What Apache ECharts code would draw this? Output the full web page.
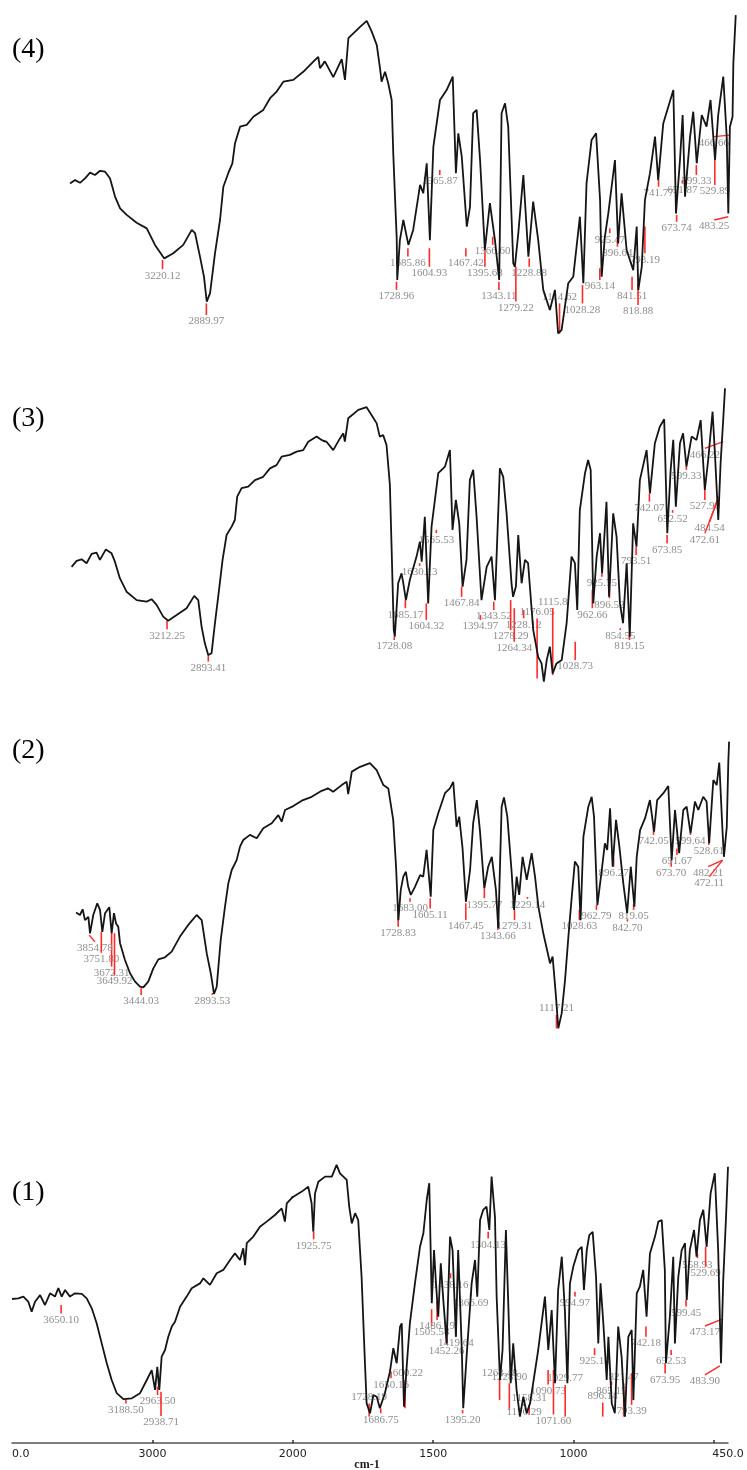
<!DOCTYPE html>
<html><head><meta charset="utf-8">
<script src="https://cdn.jsdelivr.net/npm/echarts@6/dist/echarts.min.js"></script>
<style>html,body{margin:0;padding:0;background:#fff}#c{width:747px;height:1470px}</style>
</head><body><div id="c"></div>
<script>
// ---------- Spectrum (4) ----------
const s4Wave = [3917,3879,3842,3804,3766,3729,3691,3653,3616,3578,3540,3490,3415,3339,3277,3207,3139,3064,3000,2975,2938,2908,2887,2862,2825,2787,2762,2725,2694,2674,2636,2586,2536,2461,2410,2360,2310,2235,2160,2084,2047,2034,1998,1967,1935,1923,1910,1866,1841,1822,1803,1791,1785,1772,1760,1747,1741,1734,1728,1726,1716,1703,1697,1684,1666,1640,1628,1615,1603,1590,1565,1540,1517,1505,1496,1483,1464,1452,1440,1427,1414,1396,1377,1358,1342,1333,1320,1308,1289,1283,1270,1251,1232,1214,1195,1176,1151,1132,1120,1107,1082,1063,1038,1025,1013,994,977,962,956,944,931,906,894,881,862,837,824,818,805,793,774,755,743,724,686,676,661,651,642,623,611,598,579,561,546,529,517,498,485,479,473,463,460,451];
const s4T = [52.2,53.3,52.4,53.9,55.8,55,56.4,56.1,53.9,47.8,43.9,41.7,39.1,37.2,31.7,27.2,28.9,31.7,36.7,35.6,27.8,21.1,12.8,15.6,28.9,40,51.1,55.6,58.9,65.6,71.1,71.7,74.4,76.7,80.6,82.8,86.1,86.7,89.4,92.8,94.4,90.6,92.8,87.6,93.6,86.7,100.6,104.4,106.4,102.8,98.3,90.6,86.1,89.4,85.6,80,62.2,46.7,33.9,20,33.3,40,40.6,31.7,36.7,51.7,48.9,58.9,33.3,64.4,80,83.3,87.8,55.6,68.9,61.1,37.8,44.4,75.6,76.7,60,30,45.6,33.3,20,75.6,78.9,71.1,25.6,24.4,35.6,55,27.8,46.1,33.3,16.7,10,16.7,2.2,3.3,18.9,21.1,41.1,18.9,52.2,66.7,68.9,46.7,21.1,34.4,42.2,60,32.2,48.9,30,23.3,37.8,16.7,24.4,46.7,55.6,67.8,53.3,72.2,83.3,42.2,60,75,47.8,67.8,76.1,58.9,75,71.1,80,60,75,87.8,67.8,42.2,71.1,74.4,92.2,108.3];
const p4Peaks = [['3220.12',26.7,23.6],['2889.97',12.2,8.3],['1728.96',19.4,16.7],['1685.86',30.6,27.8],['1604.93',30.6,24.4],['1565.87',56.7,55],['1467.42',30.6,27.8],['1395.68',30,24.4],['1366.60',34.4,31.7],['1343.11',19.4,16.7],['1279.22',24.4,12.8],['1228.88',27.2,24.4],['1114.62',12.2,2.2,'up'],['1028.28',18.3,12.2],['963.14',23.9,20],['925.47',37.2,35.6],['896.64',34.4,31.1],['841.51',21.1,16.7],['818.88',18.9,11.7],['793.19',37.8,28.9],['741.77',53.3,51.1],['673.74',41.7,39.4],['651.87',53.3,52.2],['599.33',58.3,55],['529.89',60,51.7]];
const p4Leaders = [['466.66',473,68.3,533,67.8],['483.25',479,41.1,532,40]];

// ---------- Spectrum (3) ----------
const s3Wave = [3950,3911,3872,3834,3795,3757,3731,3685,3641,3615,3577,3525,3447,3370,3332,3293,3242,3203,3138,3061,3002,2971,2945,2920,2894,2868,2842,2817,2783,2752,2713,2688,2670,2636,2585,2533,2469,2417,2366,2327,2263,2211,2160,2121,2056,2018,1990,1964,1938,1925,1919,1906,1867,1835,1816,1796,1784,1771,1758,1745,1738,1730,1726,1713,1700,1694,1683,1668,1642,1629,1622,1610,1597,1584,1558,1532,1513,1503,1490,1477,1464,1449,1436,1423,1410,1391,1371,1352,1339,1320,1307,1294,1275,1269,1258,1249,1236,1223,1211,1191,1172,1159,1150,1139,1127,1116,1101,1081,1062,1043,1030,1021,1011,991,979,969,959,946,933,925,908,898,882,869,856,844,830,818,805,792,779,753,740,721,702,685,673,660,650,640,624,612,599,579,560,544,528,515,498,489,476,467,457,450];
const s3T = [44.4,46.4,46.9,45.6,48.7,49.1,46.7,50.2,48.9,46.1,40.6,36.1,33.3,32.8,33.6,31.7,27.8,26.4,28.3,30.6,34.7,33.3,24.4,18.9,15,15.6,25.6,34.4,46.7,55,57.8,60,67.8,70.6,71.1,73.3,74.4,77.2,78.3,81.1,81.7,82.8,83.3,86.1,87.8,86.7,86.1,83.3,87.2,88.9,86.1,93.9,96.7,97.6,95,92.2,87.8,88.3,85,71.7,49.4,23.3,21.1,38.9,42.2,39.4,33.3,40,47.8,52.8,46.1,61.1,32.2,57.8,75.6,77.8,83.3,56.7,66.7,58.9,37.8,46.7,73.3,76.7,61.1,33.3,44.4,47.8,33.3,77.2,74.4,62.2,38.9,34.4,37.8,55,38.9,46.7,45.6,23.3,14.4,12.2,6.1,13.3,17.8,8.9,12.2,13.3,25.6,47.8,45.6,30,63.3,75.6,80,76.7,32.2,47.8,55.6,42.2,66.1,34.4,62.2,54.4,32.2,25.6,45.6,21.1,58.9,51.1,73.3,83.3,68.9,85.6,91.1,93.6,55.6,76.7,86.7,64.4,85.6,88.9,77.8,87.8,86.7,93.3,70,80,96.1,82.2,60,78.9,93.3,103.9];
const p3Peaks = [['3212.25',26.4,23.6],['2893.41',15,12.8],['1728.08',21.1,20],['1685.17',33.3,30.6],['1630.13',45.6,44.7],['1604.32',32.2,26.7],['1565.53',56.7,55.6],['1467.84',37.8,34.4],['1394.97',28.3,26.7],['1343.52',32.8,30],['1278.29',33.3,23.3],['1264.34',30.6,19.4],['1228.12',30,27.2],['1176.05',27.2,7.2,'up'],['1115.8',30.6,8.3,'up'],['1028.73',19.4,13.3],['962.66',36.7,30.6],['925.75',42.2,41.1],['896.52',41.1,33.9],['854.55',23.9,23.3],['819.15',22.2,20],['793.51',51.1,48.3],['742.07',68.9,66.1],['673.85',55,52.2],['652.52',63.3,62.4],['599.33',77.8,76.7],['527.90',70,66.7]];
const p3Leaders = [['466.22',457,86.1,528,83.9],['484.54',476,67.8,509,59.4],['472.61',483,65.6,528,55.6]];

// ---------- Spectrum (2) ----------
const s2Wave = [3947,3917,3896,3878,3852,3839,3814,3783,3762,3744,3723,3690,3672,3654,3638,3621,3607,3569,3530,3491,3453,3427,3389,3350,3311,3260,3208,3144,3080,3015,2976,2937,2906,2881,2860,2829,2796,2770,2744,2706,2680,2655,2603,2551,2500,2435,2384,2358,2332,2268,2203,2126,2049,1999,1980,1947,1928,1922,1908,1876,1838,1812,1786,1767,1748,1737,1728,1719,1709,1699,1690,1680,1664,1644,1632,1619,1603,1593,1574,1548,1529,1516,1503,1493,1480,1467,1451,1439,1425,1413,1396,1381,1367,1351,1342,1329,1320,1307,1290,1281,1271,1261,1248,1232,1213,1200,1187,1168,1142,1132,1119,1110,1097,1084,1071,1058,1046,1033,1024,1013,994,981,972,959,942,930,921,910,900,887,874,859,844,830,816,807,794,775,756,740,728,704,685,672,659,643,627,614,599,582,569,550,537,527,511,498,488,475,470,459,453,450];
const s2T = [40.8,40,41.9,38.3,39.4,33.9,40,43.9,41.7,34.4,40.6,42.6,33.9,40.6,37.2,36.1,30.6,25,20.6,17.8,16.1,15.9,17.8,22.2,25.2,25.9,27.8,32.8,36.7,40,38.3,27.2,20.6,13.7,16.1,31.7,42.8,50.6,55,58.3,62.8,65,66.7,65.6,68.9,70.6,73.3,71.1,75,76.3,78.1,79.4,81.4,82.2,81.1,83.3,84.4,80.3,87.8,89.4,90.6,88.3,83.3,82.2,71.7,56.1,38.3,48.3,52.8,54.4,49.4,46.7,49.4,53.3,52.8,61.7,46.1,68.3,73.9,80.6,82.2,84.4,69.4,72.8,62.2,44.4,55,70.6,78.3,68.3,48.9,56.1,59.4,48.3,35.6,76.1,79.2,72.8,53.9,41.7,52.8,46.7,59.4,51.7,60.6,52.8,42.8,33.9,23.9,26.1,12.8,2.2,7.2,18.3,32.8,46.1,57.8,56.1,38.3,66.1,76.1,79.4,72.8,43.3,55,63.9,61.7,75.6,56.1,71.7,62.8,50.6,40.6,56.1,42.8,59.4,68.3,72.2,78.3,67.8,78.3,80.6,83,58.3,75,60.6,75,76.1,67.2,77.8,75,79.4,77.8,63.9,85,83.3,90.8,67.2,59.4,69.4,91.1,97.8];
const p2Peaks = [['3751.80',34.4,27.4],['3672.31',33.9,22.8],['3649.92',33.9,20],['3444.03',15.6,13.3],['2893.53',14,13.3],['1728.83',40,36.1],['1683.00',45.6,44.4],['1605.11',45.6,42.2],['1467.45',43.9,38.3],['1395.77',48.9,45.6],['1343.66',38.3,35],['1279.31',41.7,38.3],['1229.14',46,45.4],['1117.21',6.7,2.2,'up'],['1028.63',41.7,38.3],['962.79',43.3,41.7],['896.27',58.9,56.1],['842.70',38.6,37.8],['819.05',43.6,41.7],['742.05',69.7,66.7],['673.70',58.3,56.1],['651.67',62.2,60],['599.64',67.2,66.7],['528.61',69.4,63.3]];
const p2Leaders = [['3854.78',3845,33.3,3801,31.1],['482.21',475,58.3,531,56.1],['472.11',475,58.3,527,52.8]];

// ---------- Spectrum (1) ----------
const s1Wave = [4000,3955,3919,3884,3860,3836,3800,3765,3729,3694,3670,3646,3622,3587,3551,3503,3468,3432,3397,3361,3325,3290,3254,3207,3147,3088,3040,3005,2981,2965,2951,2934,2910,2887,2862,2839,2803,2756,2720,2661,2637,2590,2542,2495,2447,2412,2376,2353,2340,2328,2281,2234,2186,2127,2079,2056,2043,1998,1968,1945,1933,1927,1921,1909,1885,1861,1844,1832,1808,1799,1790,1778,1767,1755,1743,1737,1725,1713,1701,1690,1672,1654,1642,1630,1618,1612,1604,1594,1583,1565,1547,1535,1523,1514,1505,1497,1490,1482,1473,1464,1452,1440,1431,1419,1411,1398,1393,1381,1363,1351,1343,1333,1322,1310,1300,1292,1280,1274,1262,1253,1241,1233,1224,1215,1203,1191,1179,1167,1155,1144,1126,1114,1102,1090,1078,1066,1055,1042,1031,1022,1013,1001,983,971,963,953,944,932,920,912,904,894,882,876,864,853,841,829,817,805,793,787,775,764,752,740,728,710,698,686,675,671,657,645,639,627,615,603,597,586,571,562,550,538,526,512,497,485,479,475,467,457,450];
const s1T = [48,48.2,48.8,47.1,43.8,47.1,49.3,46,49.9,48.8,51.6,48.8,51,48.8,49.9,49.7,48.2,44.9,39.9,33.2,26.6,21,16.6,14.6,14.9,16.6,21,24.3,17.7,25.4,17.7,28.8,31,35.4,38.8,40.4,45.4,48.8,51.6,53.2,54.9,52.7,56.6,57.7,61,63.2,61,64.9,59.3,66.6,68.8,72.1,73.8,76,78.2,73.8,79.9,82.1,83.8,85.4,79.9,70.4,83.2,87.1,88.8,88.8,92.7,89.9,87.7,78.8,73.2,76.6,74.3,55.4,26.6,13.2,9.9,16,15.4,11.6,16.6,23.8,31.6,26.6,38.8,39.9,12.1,26,39.9,53.2,65.4,69.9,81,86.6,46.6,64.3,53.2,42.1,59.9,47.7,33.2,68.8,64.3,35.4,64.3,31,11.6,28.8,53.2,61,48.8,74.3,77.7,78.8,71,88.8,75.4,48.8,21,31,71,47.7,19.9,33.2,17.7,8.8,15.4,9.9,13.2,19.9,31,39.9,48.8,31,44.3,19.9,51,62.1,44.3,19.9,53.2,58.8,64.3,65.4,51,64.3,69.3,70.4,55.4,33.2,53.2,39.9,21,35.4,13.2,9.9,38.8,28.8,8.8,35.4,37.7,14.3,49.9,52.1,57.7,42.1,63.2,68.8,73.8,74.3,57.7,26.6,42.1,62.1,33.2,55.4,64.3,66.6,47.7,64.3,71,62.1,74.3,77.7,65.4,83.2,89.9,64.3,42.1,26.6,54.3,75.4,92.1];
const p1Peaks = [['3650.10',46,43.2],['3188.50',14.6,13.2],['2963.50',18.8,16],['2938.71',17.1,9],['1925.75',70.4,67.9],['1728.19',13.2,8.8,'up'],['1686.75',11.5,9.9],['1650.16',23.8,21.6],['1600.22',21,11.6,'up'],['1505.58',44.6,39],['1486.19',47.1,41],['1452.26',38.2,32.7],['1419.64',42.1,35.4],['1438.16',56.6,54.9],['1395.20',11,9.9],['1366.69',49.9,48.8],['1304.13',70.4,68.2],['1263.48',21,14.3,'up'],['1228.90',19.9,11,'up'],['1158.31',12.7,9.4,'up'],['1176.29',13,12.5],['1090.73',24.3,19.5],['1071.60',24.3,9.5],['1029.77',19.3,8.8,'up'],['994.97',50.4,48.8],['925.18',31.6,29.3],['896.14',13.5,8.8,'up'],['865.15',20.5,19.3],['821.47',19.9,8.8,'up'],['793.39',23.2,12.7],['742.18',38.8,35.4],['673.95',26.6,23.2],['652.53',31,29.3],['599.45',47.7,45.5],['558.93',63.2,61.6],['529.69',65.4,58.8]];
const p1Leaders = [['473.17',473,41.2,532,39],['483.90',479,25.7,532,22.7]];

// axis ticks / labels (wavenumber, cm-1)
const hiTickValues = [3000];
const hiLabelValues = [3000, 4000];
const loTickValues = [2000, 1500, 1000, 500];
const loLabelValues = [2000, 1500, 1000, 450];
const panelNames = ['(4)', '(3)', '(2)', '(1)'];

// layout (pixels)
const panels = [
  {wave:s4Wave, T:s4T, peaks:p4Peaks, leaders:p4Leaders, top:10,   brk:324.5, hiW:265.5, loW:411.5, nameY:50},
  {wave:s3Wave, T:s3T, peaks:p3Peaks, leaders:p3Leaders, top:370,  brk:323.9, hiW:258.8, loW:401.1, nameY:419},
  {wave:s2Wave, T:s2T, peaks:p2Peaks, leaders:p2Leaders, top:705,  brk:328.0, hiW:258.8, loW:401.1, nameY:751},
  {wave:s1Wave, T:s1T, peaks:p1Peaks, leaders:p1Leaders, top:1113, brk:292.8, hiW:280.8, loW:435.2, nameY:1193}
];

const LBL_FONT = '11px "Liberation Serif", "DejaVu Serif", serif';
const RED = '#ff2b2b';
const LBL_COLOR = '#8e8e8e';

function tickSeries(list, xi, yi){
  return {type:'custom', xAxisIndex:xi, yAxisIndex:yi, z:2, silent:true, animation:false,
    data:list.map(p=>[parseFloat(p[0]), p[1], p[2], p[3]==='up'?1:0]),
    renderItem:(params, api)=>{
      const a = api.coord([api.value(0), api.value(1)]);
      const b = api.coord([api.value(0), api.value(2)]);
      const up = api.value(3) === 1;
      return {type:'group', children:[
        {type:'line', shape:{x1:a[0], y1:a[1], x2:b[0], y2:b[1]}, style:{stroke:RED, lineWidth:1.6}},
        {type:'text', x:a[0], y: up ? a[1]-1 : b[1]+1,
          style:{text:list[params.dataIndex][0], fill:LBL_COLOR, font:LBL_FONT, align:'center', verticalAlign: up ? 'bottom' : 'top'}}
      ]};
    }};
}
function leaderSeries(list, xi, yi){
  return {type:'custom', xAxisIndex:xi, yAxisIndex:yi, z:2, silent:true, animation:false,
    data:list.map(p=>[p[1], p[2], p[3], p[4]]),
    renderItem:(params, api)=>{
      const a = api.coord([api.value(0), api.value(1)]);
      const b = api.coord([api.value(2), api.value(3)]);
      return {type:'group', children:[
        {type:'line', shape:{x1:a[0], y1:a[1], x2:b[0], y2:b[1]}, style:{stroke:RED, lineWidth:1.4}},
        {type:'text', x:b[0], y:b[1]+1,
          style:{text:list[params.dataIndex][0], fill:LBL_COLOR, font:LBL_FONT, align:'center', verticalAlign:'top'}}
      ]};
    }};
}

const grids = [], xAxes = [], yAxes = [], series = [], graphic = [];
panels.forEach((p, i)=>{
  const last = i === panels.length - 1;
  const pairs = p.wave.map((w, k)=>[w, p.T[k]]);
  const iBelow = pairs.findIndex(d=>d[0] < 2000);
  const hiData = pairs.slice(0, iBelow + 1);
  const loData = pairs.slice(iBelow - 1);
  const gHi = grids.length, gLo = gHi + 1;
  grids.push({left:p.brk - p.hiW, top:p.top, width:p.hiW, height:330, containLabel:false, outerBoundsMode:'none'});
  grids.push({left:p.brk, top:p.top, width:p.loW, height:330, containLabel:false, outerBoundsMode:'none'});
  const axisCommon = {type:'value', inverse:true, splitLine:{show:false}};
  if (last) {
    const lineStyle = {color:'#555', width:1.5};
    const label = {margin:6, color:'#222', fontSize:11, fontFamily:'"DejaVu Sans", sans-serif'};
    xAxes.push(Object.assign({}, axisCommon, {gridIndex:gHi, min:2000, max:4000,
      axisLine:{show:true, lineStyle}, axisTick:{show:true, customValues:hiTickValues, length:3, inside:true, lineStyle:{color:'#333', width:1.5}},
      axisLabel:Object.assign({customValues:hiLabelValues, alignMaxLabel:'left', formatter:v=> v===4000 ? '0.0' : String(v)}, label)}));
    xAxes.push(Object.assign({}, axisCommon, {gridIndex:gLo, min:450, max:2000,
      axisLine:{show:true, lineStyle}, axisTick:{show:true, customValues:loTickValues, length:3, inside:true, lineStyle:{color:'#333', width:1.5}},
      axisLabel:Object.assign({customValues:loLabelValues, formatter:v=> v===450 ? '450.0' : String(v)}, label)}));
  } else {
    xAxes.push(Object.assign({}, axisCommon, {gridIndex:gHi, min:2000, max:4000, show:false}));
    xAxes.push(Object.assign({}, axisCommon, {gridIndex:gLo, min:450, max:2000, show:false}));
  }
  yAxes.push({type:'value', gridIndex:gHi, min:0, max:110, show:false});
  yAxes.push({type:'value', gridIndex:gLo, min:0, max:110, show:false});
  const lineStyle = {color:'#151515', width:1.8};
  series.push({type:'line', xAxisIndex:gHi, yAxisIndex:gHi, data:hiData, symbol:'none', clip:true, lineStyle, z:3, animation:false, silent:true});
  series.push({type:'line', xAxisIndex:gLo, yAxisIndex:gLo, data:loData, symbol:'none', clip:true, lineStyle, z:3, animation:false, silent:true});
  series.push(tickSeries(p.peaks.filter(q=>parseFloat(q[0]) >= 2000), gHi, gHi));
  series.push(tickSeries(p.peaks.filter(q=>parseFloat(q[0]) < 2000), gLo, gLo));
  series.push(leaderSeries(p.leaders.filter(q=>parseFloat(q[0]) >= 2000), gHi, gHi));
  series.push(leaderSeries(p.leaders.filter(q=>parseFloat(q[0]) < 2000), gLo, gLo));
  graphic.push({type:'text', x:12, y:p.nameY, z:10,
    style:{text:panelNames[i], font:'28px "Liberation Serif", "Times New Roman", serif', fill:'#000', verticalAlign:'middle'}});
});
graphic.push({type:'text', x:367, y:1465, z:10,
  style:{text:'cm-1', font:'bold 12px "Liberation Serif", serif', fill:'#222', align:'center', verticalAlign:'middle'}});

const chart = echarts.init(document.getElementById('c'), null, {renderer:'canvas'});
chart.setOption({backgroundColor:'#fff', animation:false, grid:grids, xAxis:xAxes, yAxis:yAxes, series, graphic});
</script>
</body></html>
